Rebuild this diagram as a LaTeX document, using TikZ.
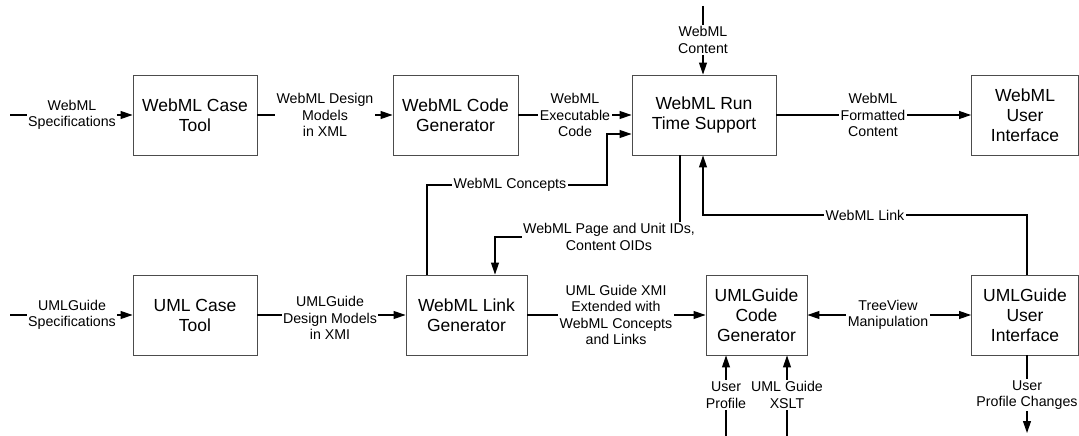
\documentclass[tikz,border=0pt]{standalone}
\usepackage{fontspec}
\setmainfont{Liberation Sans}
\usetikzlibrary{arrows.meta}
\begin{document}
\begin{tikzpicture}[x=1pt,y=-1pt,
  box/.style={draw=black!70,line width=0.9pt,minimum height=80pt,align=center,
    font=\fontsize{17.5}{20}\selectfont,inner sep=0pt},
  lbl/.style={fill=white,align=center,inner sep=1.5pt,
    font=\fontsize{14.2}{16.5}\selectfont},
  conn/.style={line width=1.1pt,-{Triangle[length=12pt,width=8pt]}},
  both/.style={line width=1.1pt,{Triangle[length=12pt,width=8pt]}-{Triangle[length=12pt,width=8pt]}}]
\useasboundingbox (0,0) rectangle (1079,436);

% processing blocks
\node[box,minimum width=124pt] (wct) at (195,115) {WebML Case\\Tool};
\node[box,minimum width=125pt] (wcg) at (455.5,115) {WebML Code\\Generator};
\node[box,minimum width=144pt] (wrt) at (704,115) {WebML Run\\Time Support};
\node[box,minimum width=107pt] (wui) at (1025,115) {WebML\\User\\Interface};
\node[box,minimum width=124pt] (uct) at (195,315) {UML Case\\Tool};
\node[box,minimum width=121pt] (wlg) at (466.5,315) {WebML Link\\Generator};
\node[box,minimum width=101pt] (ucg) at (756.5,315) {UMLGuide\\Code\\Generator};
\node[box,minimum width=107pt] (uui) at (1025,315) {UMLGuide\\User\\Interface};

% free ends of the external flows
\coordinate (inW) at (10,115);
\coordinate (inU) at (10,315);
\coordinate (inC) at (703,6);
\coordinate (inP) at (726,436);
\coordinate (inX) at (787,436);
\coordinate (outP) at (1027,433);

% top row flows
\draw[conn] (inW) -- (wct.west);
\node[lbl] at (72,115) {WebML\\Specifications};
\draw[conn] (wct.east) -- (wcg.west);
\node[lbl] at (325,115) {WebML Design\\Models\\in XML};
\draw[conn] (wcg.east) -- (wrt.west |- wcg.east);
\node[lbl] at (575,115) {WebML\\Executable\\Code};
\draw[conn] (inC) -- (inC |- wrt.north);
\node[lbl] at (703,40) {WebML\\Content};
\draw[conn] (wrt.east) -- (wui.west);
\node[lbl] at (873,115) {WebML\\Formatted\\Content};

% feedback between the rows
\coordinate (cL) at (427,185);
\draw[conn] (wlg.north -| cL) |- (607,185) |- (wrt.west |- 0,134);
\node[lbl] at (510,185) {WebML Concepts};
\draw[conn] (wrt.south -| 680,0) -- (680,237) -- (495,237) -- (wlg.north -| 495,0);
\node[lbl] at (609,237) {WebML Page and Unit IDs,\\Content OIDs};
\draw[conn] (uui.north -| 1027,0) |- (703,215) -- (wrt.south -| 703,0);
\node[lbl] at (865,215) {WebML Link};

% bottom row flows
\draw[conn] (inU) -- (uct.west);
\node[lbl] at (72,315) {UMLGuide\\Specifications};
\draw[conn] (uct.east) -- (wlg.west);
\node[lbl] at (330,318) {UMLGuide\\Design Models\\in XMI};
\draw[conn] (wlg.east) -- (ucg.west);
\node[lbl] at (616,315) {UML Guide XMI\\Extended with\\WebML Concepts\\and Links};
\draw[both] (ucg.east) -- (uui.west);
\node[lbl] at (888,315) {TreeView\\Manipulation};
\draw[conn] (inP) -- (inP |- ucg.south);
\node[lbl] at (726,395) {User\\Profile};
\draw[conn] (inX) -- (inX |- ucg.south);
\node[lbl] at (787,395) {UML Guide\\XSLT};
\draw[conn] (uui.south -| outP) -- (outP);
\node[lbl] at (1027,395) {User\\Profile Changes};
\end{tikzpicture}
\end{document}
